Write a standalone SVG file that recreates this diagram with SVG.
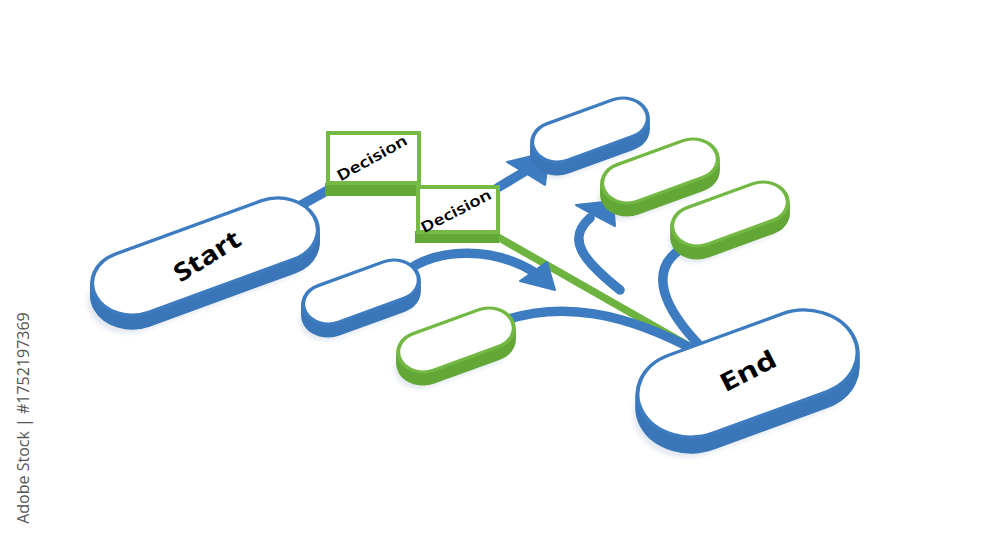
<svg xmlns="http://www.w3.org/2000/svg" xmlns:xlink="http://www.w3.org/1999/xlink" width="1000" height="545" viewBox="0 0 1000 545">
  <style>
    .top-b { fill: #ffffff; stroke: #3d7cc0; stroke-width: 4; vector-effect: non-scaling-stroke; }
    .top-g { fill: #ffffff; stroke: #72b843; stroke-width: 4; vector-effect: non-scaling-stroke; }
    .ext-b { fill: #3a76b8; stroke: #3a76b8; stroke-width: 4; vector-effect: non-scaling-stroke; }
    .ext-g { fill: #63a737; stroke: #63a737; stroke-width: 4; vector-effect: non-scaling-stroke; }
    .shadow { fill: #e3e9f0; filter: url(#blur); }
    .conn { fill: none; stroke: #3d7cc0; stroke-width: 9.5; stroke-linecap: round; stroke-linejoin: round; }
    .conn-g { fill: none; stroke: #6cb33f; stroke-width: 7.5; stroke-linecap: round; }
    .head { fill: #3d7cc0; stroke: #3d7cc0; stroke-width: 2; stroke-linejoin: round; }
    .lbl-big { font-family: "Noto Sans", "Liberation Sans", sans-serif; font-weight: 700; font-size: 25px; fill: #000; text-anchor: middle; }
    .lbl-dec { font-family: "Noto Sans", "Liberation Sans", sans-serif; font-weight: 600; font-size: 15px; fill: #000; text-anchor: middle; }
    .dec-top { fill: #ffffff; stroke: #74bb45; stroke-width: 4; }
    .dec-ext { fill: #63a737; }
    .wm { font-family: "Open Sans", "Liberation Sans", sans-serif; font-size: 16px; fill: #555; text-anchor: middle; }
  </style>
  <defs>
    <filter id="blur" x="-20%" y="-20%" width="140%" height="140%">
      <feGaussianBlur stdDeviation="3"/>
    </filter>
    <!-- pill geometries in the tilted plane -->
    <rect id="geoS" x="-61" y="-25" width="122" height="50" rx="25" ry="25"/>
    <rect id="geoStart" x="-120" y="-40" width="240" height="80" rx="40" ry="40"/>
    <rect id="geoEnd" x="-115.5" y="-53.5" width="231" height="107" rx="53.5" ry="53.5"/>
    <g id="pillSmallBlue">
      <use xlink:href="#geoS" class="ext-b" transform="matrix(0.910,-0.332,0.415,0.728,0,12)"/>
      <use xlink:href="#geoS" class="ext-b" transform="matrix(0.910,-0.332,0.415,0.728,0,9)"/>
      <use xlink:href="#geoS" class="ext-b" transform="matrix(0.910,-0.332,0.415,0.728,0,6)"/>
      <use xlink:href="#geoS" class="ext-b" transform="matrix(0.910,-0.332,0.415,0.728,0,3)"/>
      <use xlink:href="#geoS" class="top-b" transform="matrix(0.910,-0.332,0.415,0.728,0,0)"/>
    </g>
    <g id="pillSmallGreen">
      <use xlink:href="#geoS" class="ext-g" transform="matrix(0.910,-0.332,0.415,0.728,0,12)"/>
      <use xlink:href="#geoS" class="ext-g" transform="matrix(0.910,-0.332,0.415,0.728,0,9)"/>
      <use xlink:href="#geoS" class="ext-g" transform="matrix(0.910,-0.332,0.415,0.728,0,6)"/>
      <use xlink:href="#geoS" class="ext-g" transform="matrix(0.910,-0.332,0.415,0.728,0,3)"/>
      <use xlink:href="#geoS" class="top-g" transform="matrix(0.910,-0.332,0.415,0.728,0,0)"/>
    </g>
    <use id="shadowS" xlink:href="#geoS" class="shadow" transform="matrix(0.910,-0.332,0.415,0.728,-4,17)"/>
  </defs>

  <rect width="1000" height="545" fill="#ffffff"/>

  <text class="wm" transform="translate(23,418) rotate(-90)" dy="0.35em">Adobe Stock | #1752197369</text>

  <g id="shadows">
    <use xlink:href="#geoStart" class="shadow" transform="matrix(0.910,-0.332,0.415,0.728,200,275)"/>
    <use xlink:href="#geoEnd" class="shadow" transform="matrix(0.910,-0.332,0.415,0.728,743,394)"/>
    <use xlink:href="#shadowS" transform="translate(590,130)"/>
    <use xlink:href="#shadowS" transform="translate(660,171)"/>
    <use xlink:href="#shadowS" transform="translate(730,214)"/>
    <use xlink:href="#shadowS" transform="translate(361,292)"/>
    <use xlink:href="#shadowS" transform="translate(456,340)"/>
  </g>

  <g id="connectors">
    <!-- Start to Decision 1 -->
    <path class="conn" d="M 285,214 L 330,189"/>
    <!-- Decision 2 to blue pill A -->
    <path class="conn" d="M 494,190 L 524,172"/>
    <polygon class="head" points="507,162 549,152 545,185 527,174"/>
    <!-- Decision 2 to End (green) -->
    <path class="conn-g" d="M 496,236 L 696,350"/>
    <!-- Pill D to arrow -->
    <path class="conn" d="M 405,272 C 440,246 495,248 534,272"/>
    <polygon class="head" points="520,281 547,262 555,290"/>
    <!-- Pill E to End -->
    <path class="conn" d="M 500,322 C 560,300 625,312 700,353"/>
    <!-- free curve to green pill B -->
    <path class="conn" d="M 620,290 C 585,262 565,240 590,218"/>
    <polygon class="head" points="576,205 613,201 615,226 596,216"/>
    <!-- End to green pill C -->
    <path class="conn" d="M 702,348 C 665,310 645,270 684,247"/>
  </g>

  <g id="start">
    <g transform="translate(205,256.5)">
      <use xlink:href="#geoStart" class="ext-b" transform="matrix(0.910,-0.332,0.415,0.728,0,13)"/>
      <use xlink:href="#geoStart" class="ext-b" transform="matrix(0.910,-0.332,0.415,0.728,0,10)"/>
      <use xlink:href="#geoStart" class="ext-b" transform="matrix(0.910,-0.332,0.415,0.728,0,7)"/>
      <use xlink:href="#geoStart" class="ext-b" transform="matrix(0.910,-0.332,0.415,0.728,0,4)"/>
      <use xlink:href="#geoStart" class="top-b" transform="matrix(0.910,-0.332,0.415,0.728,0,0)"/>
    </g>
    <text class="lbl-big" transform="translate(207,256) rotate(-32)" dy="0.35em" textLength="74" lengthAdjust="spacingAndGlyphs">Start</text>
  </g>

  <g id="decision1">
    <rect class="dec-ext" x="325" y="183" width="96" height="13"/>
    <rect class="dec-top" x="328" y="133" width="91" height="50"/>
    <text class="lbl-dec" transform="translate(372,158) rotate(-29)" dy="0.35em" textLength="78" lengthAdjust="spacingAndGlyphs">Decision</text>
  </g>

  <g id="decision2">
    <rect class="dec-ext" x="415" y="231" width="84" height="12"/>
    <rect class="dec-top" x="418" y="187" width="80" height="45"/>
    <text class="lbl-dec" transform="translate(456,211) rotate(-27)" dy="0.35em" textLength="77" lengthAdjust="spacingAndGlyphs">Decision</text>
  </g>

  <g id="pillA"><use xlink:href="#pillSmallBlue" transform="translate(590,130)"/></g>
  <g id="pillB"><use xlink:href="#pillSmallGreen" transform="translate(660,171)"/></g>
  <g id="pillC"><use xlink:href="#pillSmallGreen" transform="translate(730,214)"/></g>
  <g id="pillD"><use xlink:href="#pillSmallBlue" transform="translate(361,292)"/></g>
  <g id="pillE"><use xlink:href="#pillSmallGreen" transform="translate(456,340)"/></g>

  <g id="end">
    <g transform="translate(747.5,373.5)">
      <use xlink:href="#geoEnd" class="ext-b" transform="matrix(0.910,-0.332,0.415,0.728,0,15)"/>
      <use xlink:href="#geoEnd" class="ext-b" transform="matrix(0.910,-0.332,0.415,0.728,0,12)"/>
      <use xlink:href="#geoEnd" class="ext-b" transform="matrix(0.910,-0.332,0.415,0.728,0,9)"/>
      <use xlink:href="#geoEnd" class="ext-b" transform="matrix(0.910,-0.332,0.415,0.728,0,6)"/>
      <use xlink:href="#geoEnd" class="ext-b" transform="matrix(0.910,-0.332,0.415,0.728,0,3)"/>
      <use xlink:href="#geoEnd" class="top-b" transform="matrix(0.910,-0.332,0.415,0.728,0,0)"/>
    </g>
    <text class="lbl-big" transform="translate(748,371) rotate(-27)" dy="0.35em" textLength="60" lengthAdjust="spacingAndGlyphs">End</text>
  </g>
</svg>
